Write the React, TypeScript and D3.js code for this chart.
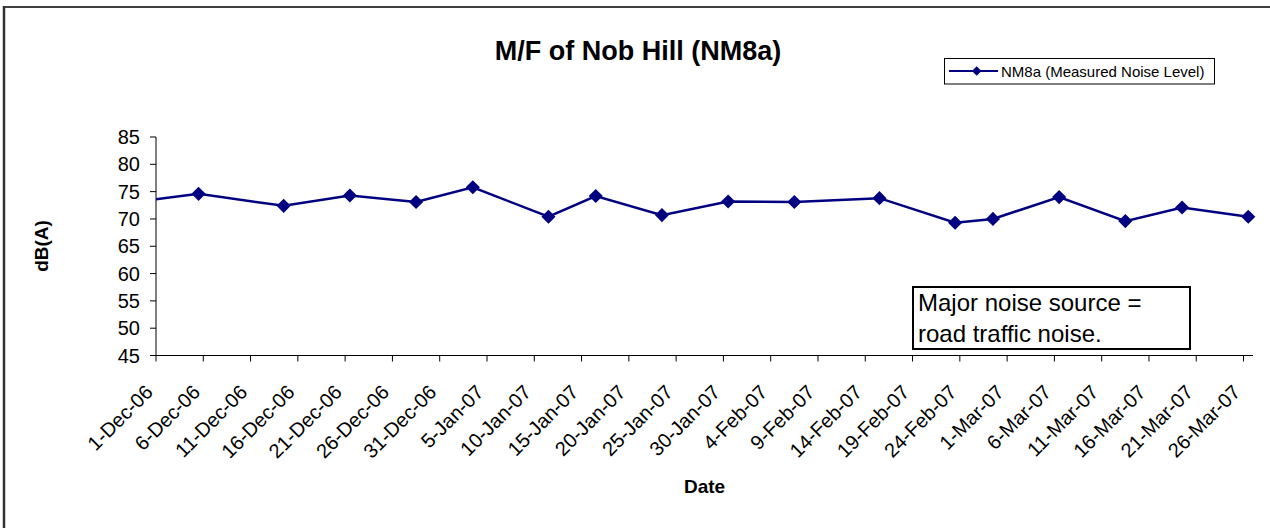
import * as d3 from 'd3';

const WIDTH = 1270;
const HEIGHT = 528;
const FONT = '"Liberation Sans", Arial, sans-serif';
const NAVY = '#000080';

// measured dates (the first one lies before the axis start and gets clipped)
const dates = [
  '29-Nov-06', '5-Dec-06', '14-Dec-06', '21-Dec-06', '28-Dec-06', '3-Jan-07',
  '11-Jan-07', '16-Jan-07', '23-Jan-07', '30-Jan-07', '6-Feb-07', '15-Feb-07',
  '23-Feb-07', '27-Feb-07', '6-Mar-07', '13-Mar-07', '19-Mar-07', '26-Mar-07',
];
const levels = [
  73.3, 74.6, 72.4, 74.3, 73.1, 75.8, 70.4, 74.2, 70.7, 73.2, 73.1, 73.8,
  69.3, 70.0, 74.0, 69.6, 72.1, 70.4,
];
const tickLabels = [
  '1-Dec-06', '6-Dec-06', '11-Dec-06', '16-Dec-06', '21-Dec-06', '26-Dec-06',
  '31-Dec-06', '5-Jan-07', '10-Jan-07', '15-Jan-07', '20-Jan-07', '25-Jan-07',
  '30-Jan-07', '4-Feb-07', '9-Feb-07', '14-Feb-07', '19-Feb-07', '24-Feb-07',
  '1-Mar-07', '6-Mar-07', '11-Mar-07', '16-Mar-07', '21-Mar-07', '26-Mar-07',
];
const yTicks = [45, 50, 55, 60, 65, 70, 75, 80, 85];
const xDomain = ['1-Dec-06', '27-Mar-07'];

const title = 'M/F of Nob Hill (NM8a)';
const seriesName = 'NM8a (Measured Noise Level)';
const noteLines = ['Major noise source =', 'road traffic noise.'];

const parse = d3.utcParse('%d-%b-%y');
const HALF_DAY = 12 * 3600 * 1000;

const margin = { left: 156, right: 1253, top: 137, bottom: 355.5 };

export default function App() {
  const x = d3
    .scaleUtc()
    .domain(xDomain.map(s => parse(s) as Date))
    .range([margin.left, margin.right]);
  const y = d3.scaleLinear().domain([45, 85]).range([margin.bottom, margin.top]);

  const points = dates.map((s, i) => ({
    date: new Date((parse(s) as Date).getTime() + HALF_DAY),
    value: levels[i],
  }));

  const lineGen = d3
    .line<{ date: Date; value: number }>()
    .x(d => x(d.date))
    .y(d => y(d.value));
  const path = lineGen(points) || '';

  const diamond = d3.symbol(d3.symbolSquare, 100)() || '';
  const smallDiamond = d3.symbol(d3.symbolSquare, 45)() || '';

  const ticks = tickLabels.map(label => ({ label, xOffset: x(parse(label) as Date) }));

  return (
    <div style={{ position: 'fixed', left: 0, top: 0 }}>
      <svg width={WIDTH} height={HEIGHT} style={{ display: 'block', background: '#fff' }} fontFamily={FONT}>
        <defs>
          <clipPath id="plot">
            <rect x={margin.left} y={0} width={margin.right - margin.left + 10} height={HEIGHT} />
          </clipPath>
        </defs>

        {/* chart frame */}
        <line x1={4} y1={7} x2={WIDTH} y2={7} stroke="#000" strokeWidth={1.5} />
        <line x1={4} y1={6} x2={4} y2={HEIGHT} stroke="#333" strokeWidth={2.5} />

        <text x={638} y={60} textAnchor="middle" fontSize={27} fontWeight="bold">
          {title}
        </text>

        {/* y axis */}
        <line x1={margin.left} y1={margin.top} x2={margin.left} y2={margin.bottom} stroke="#000" />
        {yTicks.map(v => (
          <g key={v} transform={`translate(${margin.left}, ${y(v)})`}>
            <line x1={-6} x2={0} stroke="#000" />
            <text x={-16} dy="0.35em" textAnchor="end" fontSize={20}>
              {v}
            </text>
          </g>
        ))}
        <text
          transform={`translate(48, 246) rotate(-90)`}
          textAnchor="middle"
          fontSize={19}
          fontWeight="bold"
        >
          dB(A)
        </text>

        {/* x axis */}
        <line x1={margin.left} y1={margin.bottom} x2={margin.right} y2={margin.bottom} stroke="#000" />
        {ticks.map(({ label, xOffset }) => (
          <g key={label} transform={`translate(${xOffset}, ${margin.bottom})`}>
            <line y2={6} stroke="#000" />
            <text transform="translate(-2, 38) rotate(-45)" textAnchor="end" fontSize={20}>
              {label}
            </text>
          </g>
        ))}
        <text x={(margin.left + margin.right) / 2} y={493} textAnchor="middle" fontSize={19} fontWeight="bold">
          Date
        </text>

        {/* series */}
        <g clipPath="url(#plot)">
          <path d={path} fill="none" stroke={NAVY} strokeWidth={2.5} />
          {points.map((d, i) => (
            <path
              key={i}
              d={diamond}
              fill={NAVY}
              transform={`translate(${x(d.date)}, ${y(d.value)}) rotate(45)`}
            />
          ))}
        </g>

        {/* legend */}
        <rect x={944.5} y={58.5} width={270} height={25.5} fill="#fff" stroke="#000" />
        <line x1={949} x2={998} y1={71} y2={71} stroke={NAVY} strokeWidth={2} />
        <path d={smallDiamond} fill={NAVY} transform="translate(976.7, 71) rotate(45)" />
        <text x={1001} y={76.5} fontSize={15}>
          {seriesName}
        </text>

        {/* annotation */}
        <rect x={913} y={287} width={277} height={62} fill="#fff" stroke="#000" strokeWidth={2} />
        {noteLines.map((t, i) => (
          <text key={i} x={918} y={311 + i * 30.5} fontSize={24}>
            {t}
          </text>
        ))}
      </svg>
    </div>
  );
}
